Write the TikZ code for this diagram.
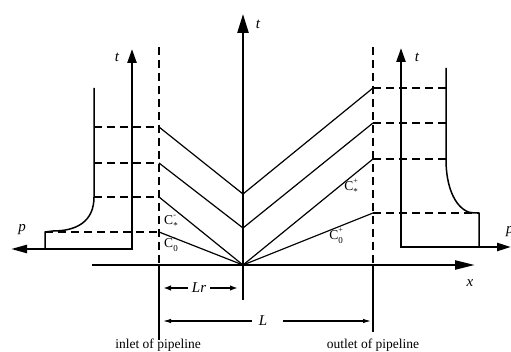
\documentclass[tikz,border=0pt]{standalone}
\usepackage{fontspec}
\setmainfont{Liberation Serif}
\usetikzlibrary{arrows.meta}
\newcommand{\chlabel}[2]{C\rlap{\raisebox{0.55em}{\fontsize{8}{8}\selectfont #1}}\raisebox{-0.3em}{\fontsize{9}{9}\selectfont #2}}
\begin{document}
\begin{tikzpicture}[x=1pt,y=-1pt,
  axisline/.style={line width=2.4pt, line join=miter},
  charline/.style={line width=1.2pt},
  dashline/.style={line width=1.2pt, dash pattern=on 8pt off 5pt},
  profline/.style={line width=1.5pt, line join=round},
  lbl/.style={font=\fontsize{15}{15}\selectfont\itshape, inner sep=0pt},
  clbl/.style={font=\fontsize{13.5}{14}\selectfont, inner sep=0pt},
  note/.style={font=\fontsize{13.5}{14}\selectfont, inner sep=0pt},
  dimthick/.style={line width=2pt, -{Latex[length=8pt,width=5.5pt]}},
  dimthin/.style={line width=1.1pt, -{Latex[length=8pt,width=4.5pt]}},
]
\useasboundingbox (0,0) rectangle (511,352);

% key points
\coordinate (O) at (243,265);
\coordinate (A1) at (243,194);
\coordinate (A2) at (243,228);
\coordinate (I1) at (159,127);
\coordinate (I2) at (159,163);
\coordinate (I3) at (159,197);
\coordinate (I4) at (159,232);
\coordinate (E1) at (373,88);
\coordinate (E2) at (373,123);
\coordinate (E3) at (373,159);
\coordinate (E4) at (373,213);

% main axes
\draw[axisline, -{Triangle[length=19pt,width=11pt]}] (243,300) -- (243,14);
\draw[axisline, -{Triangle[length=20pt,width=9pt]}] (92,265) -- (475,265);
\node[lbl] (tmain) at (258,24) {t};
\node[lbl] (xlab) at (470,283) {x};

% pipeline ends
\draw[dashline] (159,47) -- (159,265);
\draw[charline] (159,265) -- (159,340);
\draw[dashline] (373,47) -- (373,265);
\draw[charline] (373,265) -- (373,332);

% characteristic lines
\draw[charline] (I1) -- (A1) -- (E1);
\draw[charline] (I2) -- (A2) -- (E2);
\draw[charline] (I3) -- (O) -- (E3);
\draw[charline] (I4) -- (O) -- (E4);

% left p-t diagram
\draw[axisline, {Triangle[length=14pt,width=9pt]}-{Triangle[length=16pt,width=8pt]}] (132,49) -- (132,249) -- (11,249);
\node[lbl] (tleft) at (117,57) {t};
\node[lbl] (pleft) at (22,230) {p};
\coordinate (L1) at (94,127);
\coordinate (L2) at (94,163);
\coordinate (L3) at (94,197);
\coordinate (L4) at (45,232);
\draw[profline] (94,88) -- (L3) .. controls (94,222) and (76,231) .. (53,231) -- (L4) -- (45,249);
\draw[dashline] (L1) -- (I1);
\draw[dashline] (L2) -- (I2);
\draw[dashline] (L3) -- (I3);
\draw[dashline] (L4) -- (I4);

% right p-t diagram
\draw[axisline, {Triangle[length=14pt,width=9pt]}-{Triangle[length=14pt,width=8pt]}] (401,48) -- (401,247) -- (511,247);
\node[lbl] (tright) at (417,57) {t};
\node[lbl, anchor=west] (pright) at (506,232) {p};
\coordinate (R1) at (446,88);
\coordinate (R2) at (446,123);
\coordinate (R3) at (446,159);
\coordinate (R4) at (479,213);
\draw[profline] (446,68) -- (R3) .. controls (446,196) and (461,213) .. (474,213) -- (R4) -- (479,247);
\draw[dashline] (E1) -- (R1);
\draw[dashline] (E2) -- (R2);
\draw[dashline] (E3) -- (R3);
\draw[dashline] (E4) -- (R4);

% C labels
\node[clbl] (cstarm) at (171,222) {\chlabel{-}{*}};
\node[clbl] (czerom) at (171,245) {\chlabel{-}{0}};
\node[clbl] (cstarp) at (351,187) {\chlabel{+}{*}};
\node[clbl] (czerop) at (336,236) {\chlabel{+}{0}};

% dimensions
\node[lbl] (lr) at (199,288) {Lr};
\draw[dimthick] (lr.west) ++(-4,0) -- (163,288);
\draw[dimthick] (lr.east) ++(4,0) -- (238,288);
\node[lbl] (ll) at (263,321) {L};
\draw[dimthin] (252,321) -- (163,321);
\draw[dimthin] (283,321) -- (371,321);

\node[note] (inlet) at (158,345) {inlet of pipeline};
\node[note] (outlet) at (373,345) {outlet of pipeline};
\end{tikzpicture}
\end{document}
